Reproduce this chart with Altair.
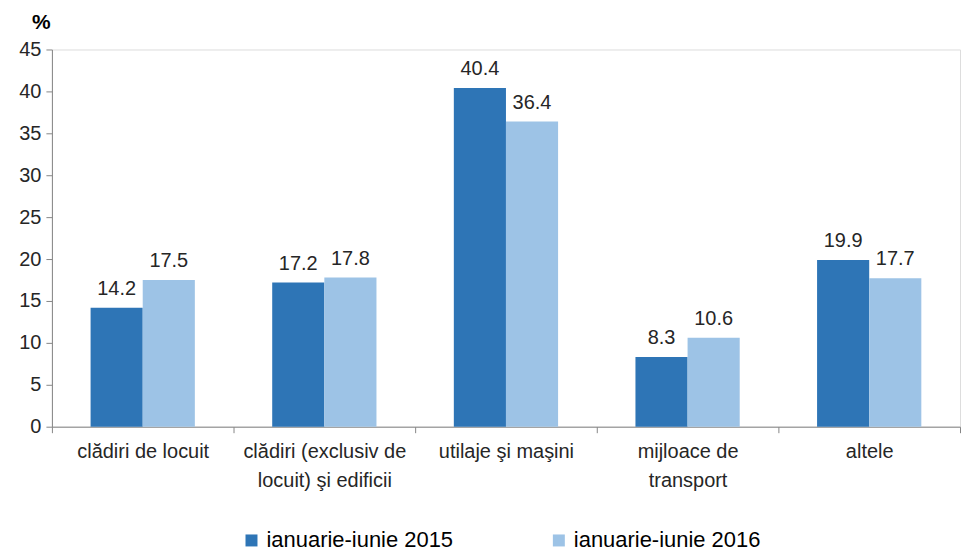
import altair as alt
import pandas as pd

categories = [
    "clădiri de locuit",
    "clădiri (exclusiv de|locuit) şi edificii",
    "utilaje şi maşini",
    "mijloace de|transport",
    "altele",
]
series = ["ianuarie-iunie 2015", "ianuarie-iunie 2016"]
values_2015 = [14.2, 17.2, 40.4, 8.3, 19.9]
values_2016 = [17.5, 17.8, 36.4, 10.6, 17.7]
y_ticks = [0, 5, 10, 15, 20, 25, 30, 35, 40, 45]
colors = ["#2E75B6", "#9DC3E6"]

rows = []
for c, a, b in zip(categories, values_2015, values_2016):
    rows.append({"cat": c, "serie": series[0], "val": a})
    rows.append({"cat": c, "serie": series[1], "val": b})
df = pd.DataFrame(rows)

FONT = "Liberation Sans"
GRAY = "#868686"
TXT = "#262626"

x = alt.X(
    "cat:N",
    sort=categories,
    scale=alt.Scale(paddingInner=0, paddingOuter=0),
    axis=alt.Axis(
        title=None,
        labelAngle=0,
        labelExpr="split(datum.label, '|')",
        labelFont=FONT,
        labelFontSize=20,
        labelColor=TXT,
        labelPadding=9,
        labelLineHeight=29,
        labelBaseline="top",
        tickBand="extent",
        tickSize=6,
        tickColor=GRAY,
        domainColor=GRAY,
        labelLimit=300,
    ),
)
xo = alt.XOffset(
    "serie:N",
    sort=series,
    scale=alt.Scale(paddingInner=0, paddingOuter=0.742),
)

bars = alt.Chart(df).mark_bar().encode(
    x=x,
    xOffset=xo,
    y=alt.Y(
        "val:Q",
        scale=alt.Scale(domain=[0, 45], nice=False),
        axis=alt.Axis(
            values=y_ticks,
            grid=False,
            title="%",
            titleAngle=0,
            titleX=-11,
            titleY=-17,
            titleAlign="center",
            titleBaseline="bottom",
            titleFont=FONT,
            titleFontSize=21,
            titleFontWeight="bold",
            titleColor="#000000",
            labelFont=FONT,
            labelFontSize=20,
            labelColor=TXT,
            labelPadding=5,
            tickSize=6,
            tickColor=GRAY,
            domainColor=GRAY,
        ),
    ),
    color=alt.Color(
        "serie:N",
        sort=series,
        scale=alt.Scale(domain=series, range=colors),
        legend=alt.Legend(
            title=None,
            orient="none",
            legendX=189,
            legendY=481,
            direction="horizontal",
            columns=2,
            columnPadding=94,
            symbolType="square",
            symbolSize=144,
            symbolStrokeWidth=0,
            labelFont=FONT,
            labelFontSize=22,
            labelColor="#000000",
            labelOffset=4,
            labelLimit=400,
        ),
    ),
)

labels = alt.Chart(df).mark_text(
    baseline="bottom", dy=-9, font=FONT, fontSize=20, color=TXT
).encode(
    x=alt.X("cat:N", sort=categories),
    xOffset=xo,
    y=alt.Y("val:Q"),
    text=alt.Text("val:Q", format=".1f"),
)

chart = (
    alt.layer(bars, labels)
    .properties(
        width=910,
        height=378,
        padding={"left": 44, "top": 41, "right": 5, "bottom": 128},
        autosize=alt.AutoSizeParams(type="none"),
    )
    .configure_view(stroke=None)
    .configure(background="white")
)

chart.save("out.html", embed_options={"renderer": "svg", "actions": False})
